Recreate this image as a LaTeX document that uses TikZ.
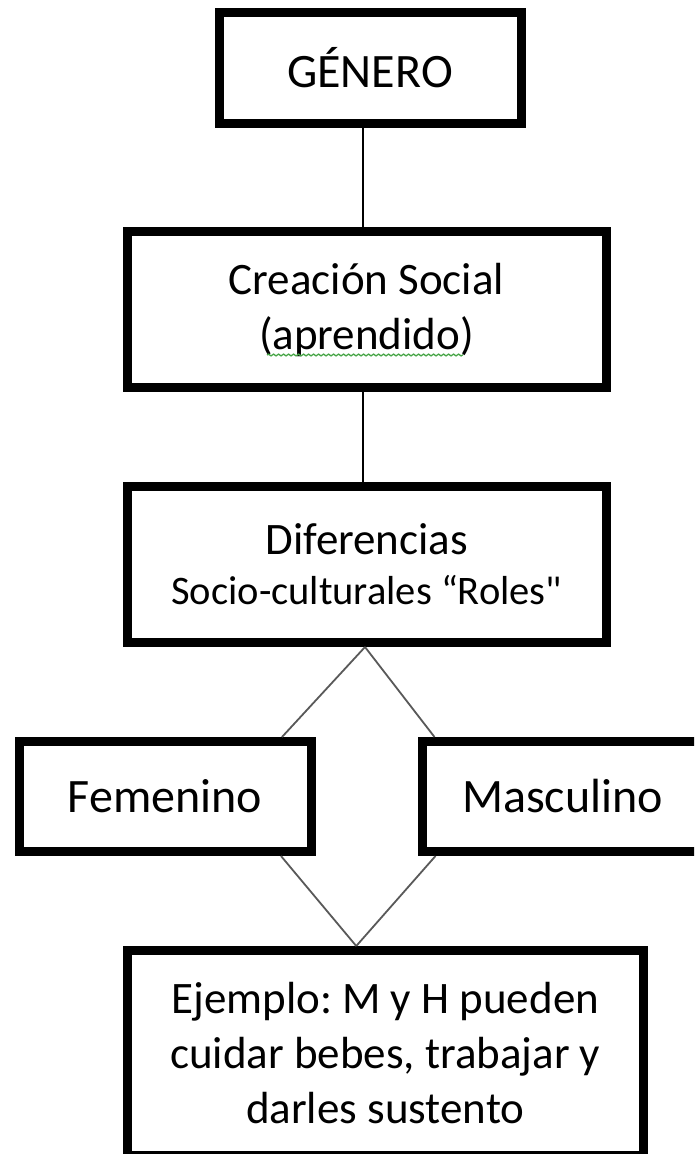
\documentclass[tikz,border=0pt]{standalone}
\usepackage{fontspec}
\setmainfont{Carlito}[Ligatures=TeXOff]
\usetikzlibrary{decorations.pathmorphing}
\definecolor{spellgreen}{RGB}{70,165,70}
\frenchspacing

\begin{document}
\begin{tikzpicture}[
        x=1pt, y=-1pt,
        box/.style={draw, line width=9pt, inner sep=0pt, align=center},
        link/.style={line width=2.5pt},
        branch/.style={line width=1.8pt, black!65}
    ]
    \clip (0,0) rectangle (694,1154);
    \useasboundingbox (0,0) rectangle (694,1154);

    % top of the chain
    \node[box, minimum width=302pt, minimum height=111pt,
          font=\fontsize{48}{55}\selectfont] (Genero) at (370,67.5) {GÉNERO};
    \node[box, minimum width=479pt, minimum height=156pt,
          font=\fontsize{45}{55}\selectfont] (Creacion) at (366.5,309.5) {Creación Social\\(aprendido)};
    \node[box, minimum width=479.5pt, minimum height=156.5pt,
          font=\fontsize{40.5}{50}\selectfont] (Diferencias) at (366.75,564.25)
          {{\fontsize{45}{50}\selectfont Diferencias}\\Socio-culturales “Roles"};

    \draw[link] ([xshift=-7pt]Genero.south) -- ([xshift=-3.5pt]Creacion.north);
    \draw[link] ([xshift=-3.5pt]Creacion.south) -- ([xshift=-3.75pt]Diferencias.north);

    % spell check mark
    \draw[spellgreen, line width=1.3pt, decorate,
          decoration={snake, amplitude=0.9pt, segment length=5pt}] (267,355) -- (463,355);

    % the two branches
    \node[box, minimum width=292pt, minimum height=110pt,
          font=\fontsize{48}{55}\selectfont] (Femenino) at (165,796.5) {Femenino};
    \node[box, minimum width=280pt, minimum height=110pt,
          font=\fontsize{48}{55}\selectfont] (Masculino) at (562.5,796.5) {Masculino};

    \draw[branch] ([xshift=-1.75pt]Diferencias.south) -- ([xshift=-33.5pt]Femenino.north east);
    \draw[branch] ([xshift=-1.75pt]Diferencias.south) -- ([xshift=16.5pt]Masculino.north west);

    % example
    \node[box, minimum width=515.5pt, minimum height=205pt,
          font=\fontsize{45}{55}\selectfont] (Ejemplo) at (385.25,1053)
          {Ejemplo: M y H pueden\\cuidar bebes, trabajar y\\darles sustento};

    \draw[branch] ([xshift=-34.5pt]Femenino.south east) -- ([xshift=-29pt]Ejemplo.north);
    \draw[branch] ([xshift=17.5pt]Masculino.south west) -- ([xshift=-29pt]Ejemplo.north);

\end{tikzpicture}
\end{document}
